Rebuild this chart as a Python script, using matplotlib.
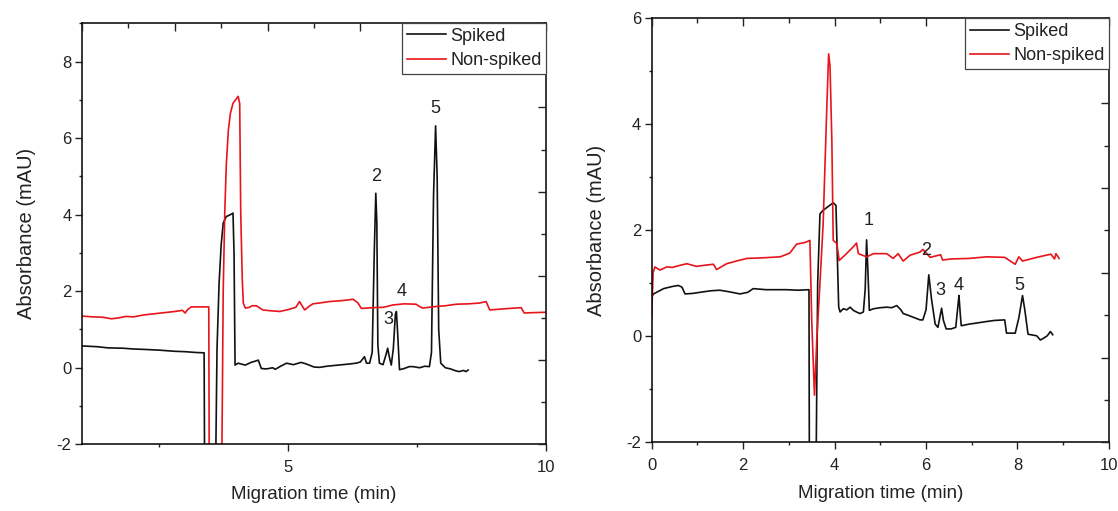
import numpy as np
import matplotlib.pyplot as plt
from matplotlib.ticker import MultipleLocator
from matplotlib.lines import Line2D

# ---- left panel data (migration time, absorbance) ----
spk_l_t = [1.00, 1.30, 1.50, 1.80, 2.00, 2.20, 2.50, 2.80, 3.00, 3.20, 3.37, 3.38,
           3.59, 3.62, 3.66, 3.70, 3.74, 3.80, 3.88, 3.93, 3.95, 3.97, 4.03, 4.08,
           4.17, 4.28, 4.38, 4.42, 4.48, 4.58, 4.70, 4.75, 4.84, 4.97, 5.10, 5.25,
           5.35, 5.50, 5.61, 5.75, 5.90, 6.05, 6.20, 6.32, 6.40, 6.48, 6.52, 6.58,
           6.63, 6.67, 6.70, 6.72, 6.74, 6.77, 6.84, 6.90, 6.93, 6.96, 7.00, 7.04,
           7.08, 7.10, 7.12, 7.16, 7.25, 7.35, 7.42, 7.55, 7.65, 7.74, 7.78, 7.82,
           7.86, 7.89, 7.92, 7.96, 8.05, 8.15, 8.25, 8.32, 8.40, 8.45, 8.49]
spk_l_a = [0.57, 0.55, 0.52, 0.51, 0.49, 0.48, 0.46, 0.43, 0.42, 0.40, 0.39, -3.0,
           -3.0, 0.50, 2.20, 3.20, 3.78, 3.95, 4.00, 4.04, 3.00, 0.07, 0.12, 0.10,
           0.07, 0.14, 0.18, 0.20, -0.02, -0.03, 0.00, -0.04, 0.03, 0.12, 0.08, 0.14,
           0.10, 0.02, 0.01, 0.04, 0.06, 0.08, 0.10, 0.12, 0.15, 0.29, 0.12, 0.12,
           0.40, 3.00, 4.56, 3.80, 0.60, 0.12, 0.08, 0.35, 0.51, 0.30, 0.07, 0.50,
           1.40, 1.47, 1.00, -0.05, -0.02, 0.03, 0.03, 0.00, 0.04, 0.03, 0.40, 4.50,
           6.32, 5.00, 1.00, 0.12, 0.00, -0.03, -0.08, -0.10, -0.07, -0.10, -0.06]

non_l_t = [1.00, 1.20, 1.40, 1.57, 1.70, 1.85, 2.00, 2.20, 2.40, 2.60, 2.80, 2.95,
           3.00, 3.05, 3.12, 3.30, 3.46, 3.47, 3.71, 3.74, 3.77, 3.80, 3.84, 3.88,
           3.93, 4.03, 4.06, 4.08, 4.11, 4.13, 4.17, 4.25, 4.30, 4.38, 4.51, 4.65,
           4.84, 5.00, 5.15, 5.22, 5.32, 5.40, 5.48, 5.65, 5.81, 6.00, 6.15, 6.26,
           6.35, 6.42, 6.64, 6.85, 7.03, 7.25, 7.48, 7.55, 7.61, 7.87, 8.05, 8.26,
           8.50, 8.71, 8.84, 8.91, 9.10, 9.30, 9.52, 9.58, 9.75, 10.0]
non_l_a = [1.35, 1.33, 1.32, 1.28, 1.30, 1.34, 1.33, 1.38, 1.41, 1.44, 1.47, 1.50,
           1.43, 1.52, 1.59, 1.59, 1.59, -3.0, -3.0, 2.00, 4.04, 5.30, 6.21, 6.65,
           6.91, 7.09, 6.90, 4.04, 2.30, 1.69, 1.56, 1.58, 1.62, 1.62, 1.51, 1.49,
           1.47, 1.52, 1.58, 1.73, 1.51, 1.60, 1.67, 1.70, 1.73, 1.75, 1.77, 1.79,
           1.70, 1.55, 1.57, 1.58, 1.64, 1.67, 1.66, 1.60, 1.56, 1.60, 1.62, 1.66,
           1.67, 1.69, 1.73, 1.51, 1.53, 1.55, 1.57, 1.43, 1.44, 1.45]

peaks_l = ["2", "3", "4", "5"]
peaks_l_t = [6.71, 6.94, 7.20, 7.86]
peaks_l_a = [4.99, 1.25, 1.99, 6.78]

# ---- right panel data ----
spk_r_t = [0.00, 0.04, 0.26, 0.45, 0.58, 0.66, 0.73, 0.90, 1.13, 1.30, 1.49, 1.70,
           1.93, 2.10, 2.22, 2.50, 2.95, 3.20, 3.44, 3.45, 3.59, 3.63, 3.68, 3.75,
           3.83, 3.97, 4.03, 4.06, 4.09, 4.12, 4.19, 4.27, 4.34, 4.41, 4.50, 4.56,
           4.63, 4.67, 4.70, 4.73, 4.76, 4.85, 5.00, 5.14, 5.25, 5.36, 5.45, 5.50,
           5.60, 5.72, 5.87, 5.93, 6.00, 6.06, 6.12, 6.20, 6.26, 6.30, 6.34, 6.38,
           6.44, 6.55, 6.65, 6.70, 6.72, 6.75, 6.77, 6.94, 7.10, 7.33, 7.50, 7.72,
           7.76, 7.95, 8.03, 8.11, 8.16, 8.23, 8.42, 8.50, 8.58, 8.65, 8.72, 8.77]
spk_r_a = [0.75, 0.80, 0.90, 0.94, 0.96, 0.93, 0.80, 0.81, 0.84, 0.86, 0.87, 0.84,
           0.80, 0.83, 0.90, 0.88, 0.88, 0.87, 0.88, -3.0, -3.0, 1.00, 2.31, 2.38,
           2.43, 2.52, 2.47, 1.50, 0.55, 0.46, 0.52, 0.50, 0.55, 0.49, 0.45, 0.43,
           0.46, 0.90, 1.82, 1.20, 0.49, 0.52, 0.54, 0.55, 0.54, 0.58, 0.50, 0.43,
           0.40, 0.36, 0.31, 0.31, 0.50, 1.16, 0.70, 0.23, 0.17, 0.35, 0.53, 0.30,
           0.14, 0.14, 0.17, 0.60, 0.77, 0.40, 0.20, 0.23, 0.25, 0.28, 0.30, 0.31,
           0.06, 0.06, 0.35, 0.77, 0.50, 0.04, 0.01, -0.07, -0.03, 0.01, 0.09, 0.03]

non_r_t = [0.00, 0.03, 0.07, 0.18, 0.33, 0.45, 0.62, 0.77, 0.98, 1.15, 1.35, 1.42,
           1.50, 1.64, 1.85, 2.08, 2.40, 2.81, 3.02, 3.17, 3.35, 3.46, 3.50, 3.56,
           3.61, 3.68, 3.75, 3.83, 3.87, 3.90, 3.94, 3.97, 4.05, 4.10, 4.26, 4.41,
           4.48, 4.52, 4.70, 4.85, 5.14, 5.28, 5.39, 5.50, 5.65, 5.87, 5.93, 6.09,
           6.32, 6.36, 6.55, 6.94, 7.33, 7.72, 7.95, 8.03, 8.11, 8.42, 8.73, 8.81,
           8.84, 8.91]
non_r_a = [0.35, 1.20, 1.31, 1.25, 1.31, 1.30, 1.34, 1.37, 1.32, 1.34, 1.36, 1.26,
           1.30, 1.37, 1.42, 1.47, 1.48, 1.50, 1.57, 1.74, 1.77, 1.81, 0.30, -1.11,
           -0.08, 1.00, 2.13, 4.33, 5.33, 5.10, 3.70, 1.81, 1.75, 1.43, 1.56, 1.69,
           1.76, 1.56, 1.50, 1.56, 1.56, 1.47, 1.56, 1.42, 1.53, 1.59, 1.64, 1.49,
           1.54, 1.44, 1.46, 1.47, 1.50, 1.49, 1.36, 1.50, 1.42, 1.49, 1.55, 1.46,
           1.56, 1.47]

peaks_r = ["1", "2", "3", "4", "5"]
peaks_r_t = [4.75, 6.01, 6.32, 6.71, 8.04]
peaks_r_a = [2.18, 1.62, 0.86, 0.95, 0.95]

RED = '#e8141b'
BLK = '#111111'
TXT = '#222222'

plt.rcParams['font.family'] = ['Liberation Sans', 'DejaVu Sans']
plt.rcParams['axes.linewidth'] = 1.1
plt.rcParams['axes.unicode_minus'] = False

fig = plt.figure(figsize=(11.18, 5.11), dpi=100)


def panel(pos, t1, a1, t2, a2, labels, lt, la, xlim, ylim, xmaj, xmin):
    ax = fig.add_axes(pos)
    ax.plot(t1, a1, color=BLK, lw=1.2)
    ax.plot(t2, a2, color=RED, lw=1.2)
    for s, x, y in zip(labels, lt, la):
        ax.text(x, y, s, fontsize=13, ha='center', va='center', color=TXT)
    ax.set_xlim(*xlim)
    ax.set_ylim(*ylim)
    ax.xaxis.set_major_locator(MultipleLocator(xmaj))
    ax.xaxis.set_minor_locator(MultipleLocator(xmin))
    ax.yaxis.set_major_locator(MultipleLocator(2))
    ax.yaxis.set_minor_locator(MultipleLocator(1))
    ax.tick_params(which='both', direction='out', top=False, right=False, width=1.0,
                   labelsize=12, colors=TXT)
    ax.tick_params(which='major', length=5)
    ax.tick_params(which='minor', length=2.5)
    ax.tick_params(axis='x', pad=6)
    ax.tick_params(axis='y', pad=2.5)
    ax.set_xlabel('Migration time (min)', fontsize=13.5, color=TXT)
    ax.set_ylabel('Absorbance (mAU)', fontsize=14.5, color=TXT)
    ax.xaxis.set_label_coords(0.5, -0.1)
    ax.yaxis.set_label_coords(-0.1, 0.5)

    # extra top/right frame ticks on an independent 0-10 scale
    ov = fig.add_axes(pos, frameon=False)
    ov.set_zorder(ax.get_zorder() + 1)
    ov.set_xlim(0, 10)
    ov.set_ylim(0, 10)
    ov.xaxis.tick_top()
    ov.yaxis.tick_right()
    for a in (ov.xaxis, ov.yaxis):
        a.set_major_locator(MultipleLocator(2))
        a.set_minor_locator(MultipleLocator(1))
    ov.tick_params(which='both', direction='in', labeltop=False, labelright=False,
                   width=1.0, colors=TXT)
    ov.tick_params(which='major', length=6)
    ov.tick_params(which='minor', length=3.5)
    ov.patch.set_visible(False)

    handles = [Line2D([], [], color=BLK, lw=1.2), Line2D([], [], color=RED, lw=1.2)]
    leg = ov.legend(handles, ['Spiked', 'Non-spiked'], loc='upper right',
                    bbox_to_anchor=(1, 1), borderaxespad=0, fancybox=False,
                    framealpha=1, edgecolor='#444444', fontsize=13,
                    handlelength=2.2, handletextpad=0.2, borderpad=0.25,
                    labelspacing=0.4)
    leg.get_frame().set_linewidth(0.9)
    for t in leg.get_texts():
        t.set_color(TXT)
    return ax


panel([0.0733, 0.1305, 0.415, 0.824], spk_l_t, spk_l_a, non_l_t, non_l_a,
      peaks_l, peaks_l_t, peaks_l_a, (1, 10), (-2, 9), 5, 2.5)
panel([0.5829, 0.1344, 0.409, 0.8297], spk_r_t, spk_r_a, non_r_t, non_r_a,
      peaks_r, peaks_r_t, peaks_r_a, (0, 10), (-2, 6), 2, 1)

fig.savefig('out.png', dpi=100)
